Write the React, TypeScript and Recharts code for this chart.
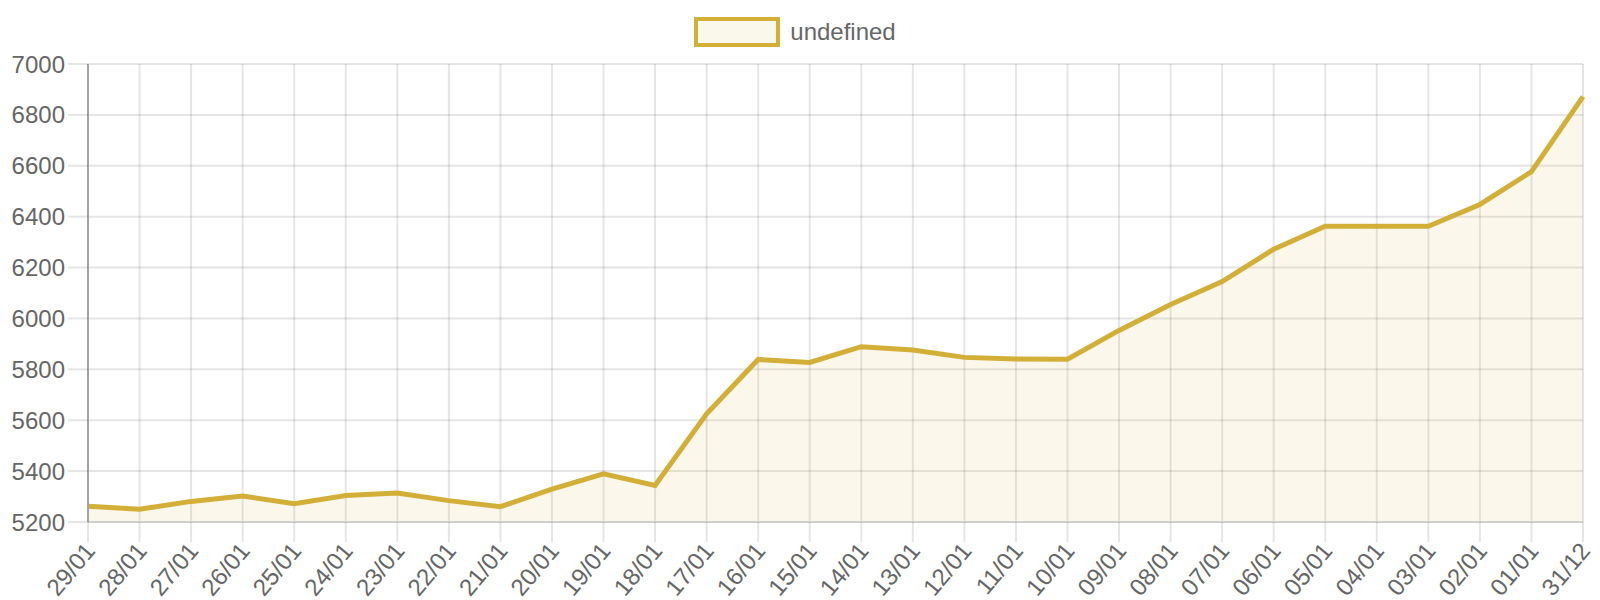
import React from 'react';
import { AreaChart, Area, XAxis, YAxis, CartesianGrid } from 'recharts';

const dates = [
  '29/01', '28/01', '27/01', '26/01', '25/01', '24/01', '23/01', '22/01', '21/01', '20/01',
  '19/01', '18/01', '17/01', '16/01', '15/01', '14/01', '13/01', '12/01', '11/01', '10/01',
  '09/01', '08/01', '07/01', '06/01', '05/01', '04/01', '03/01', '02/01', '01/01', '31/12',
];
const values = [
  5262, 5250, 5281, 5302, 5272, 5304, 5314, 5284, 5260, 5329,
  5389, 5344, 5625, 5839, 5827, 5889, 5876, 5847, 5841, 5840,
  5953, 6055, 6145, 6272, 6362, 6362, 6362, 6448, 6577, 6872,
];
const yTicks = [5200, 5400, 5600, 5800, 6000, 6200, 6400, 6600, 6800, 7000];

const data = dates.map((d, i) => ({ date: d, value: values[i] }));

const GOLD = '#d4af37';
const FILL = 'rgba(212,175,55,0.1)';
const FONT = '"Liberation Sans", Arial, sans-serif';

const XTick = (props: any) => {
  const { x, y, payload } = props;
  return (
    <g transform={`translate(${x + 2},${y})`}>
      <text
        transform="rotate(-50)"
        textAnchor="end"
        dy="0.35em"
        fill="#666"
        fontSize={24}
        fontFamily={FONT}
      >
        {payload.value}
      </text>
    </g>
  );
};

export default function App() {
  return (
    <div style={{ position: 'absolute', left: 0, top: 0, width: 1600, height: 600, background: '#fff' }}>
      <div
        style={{
          position: 'absolute',
          top: 17,
          left: -5,
          width: 1600,
          display: 'flex',
          justifyContent: 'center',
          alignItems: 'center',
          fontFamily: FONT,
          fontSize: 24,
          color: '#666',
        }}
      >
        <div
          style={{
            boxSizing: 'border-box',
            width: 86,
            height: 30,
            border: `4px solid ${GOLD}`,
            background: '#faf7eb',
            marginRight: 10,
          }}
        />
        <span>undefined</span>
      </div>
      <AreaChart
        width={1600}
        height={600}
        data={data}
        margin={{ top: 64, right: 17, left: 0, bottom: 8 }}
      >
        <CartesianGrid stroke="rgba(0,0,0,0.1)" strokeWidth={2} />
        <XAxis
          dataKey="date"
          interval={0}
          height={70}
          tickSize={20}
          tickMargin={4}
          tickLine={{ stroke: 'rgba(0,0,0,0.1)', strokeWidth: 2 }}
          axisLine={{ stroke: '#cfcfcf', strokeWidth: 2 }}
          tick={<XTick />}
        />
        <YAxis
          width={88}
          domain={[5200, 7000]}
          ticks={yTicks}
          interval={0}
          tickSize={20}
          tickMargin={3}
          tickLine={{ stroke: 'rgba(0,0,0,0.1)', strokeWidth: 2 }}
          axisLine={{ stroke: '#a3a3a3', strokeWidth: 2 }}
          tick={{ fill: '#666', fontSize: 24, fontFamily: FONT }}
        />
        <Area
          type="linear"
          dataKey="value"
          stroke={GOLD}
          strokeWidth={5}
          fill={FILL}
          fillOpacity={1}
          dot={false}
          activeDot={false}
          isAnimationActive={false}
        />
      </AreaChart>
    </div>
  );
}
